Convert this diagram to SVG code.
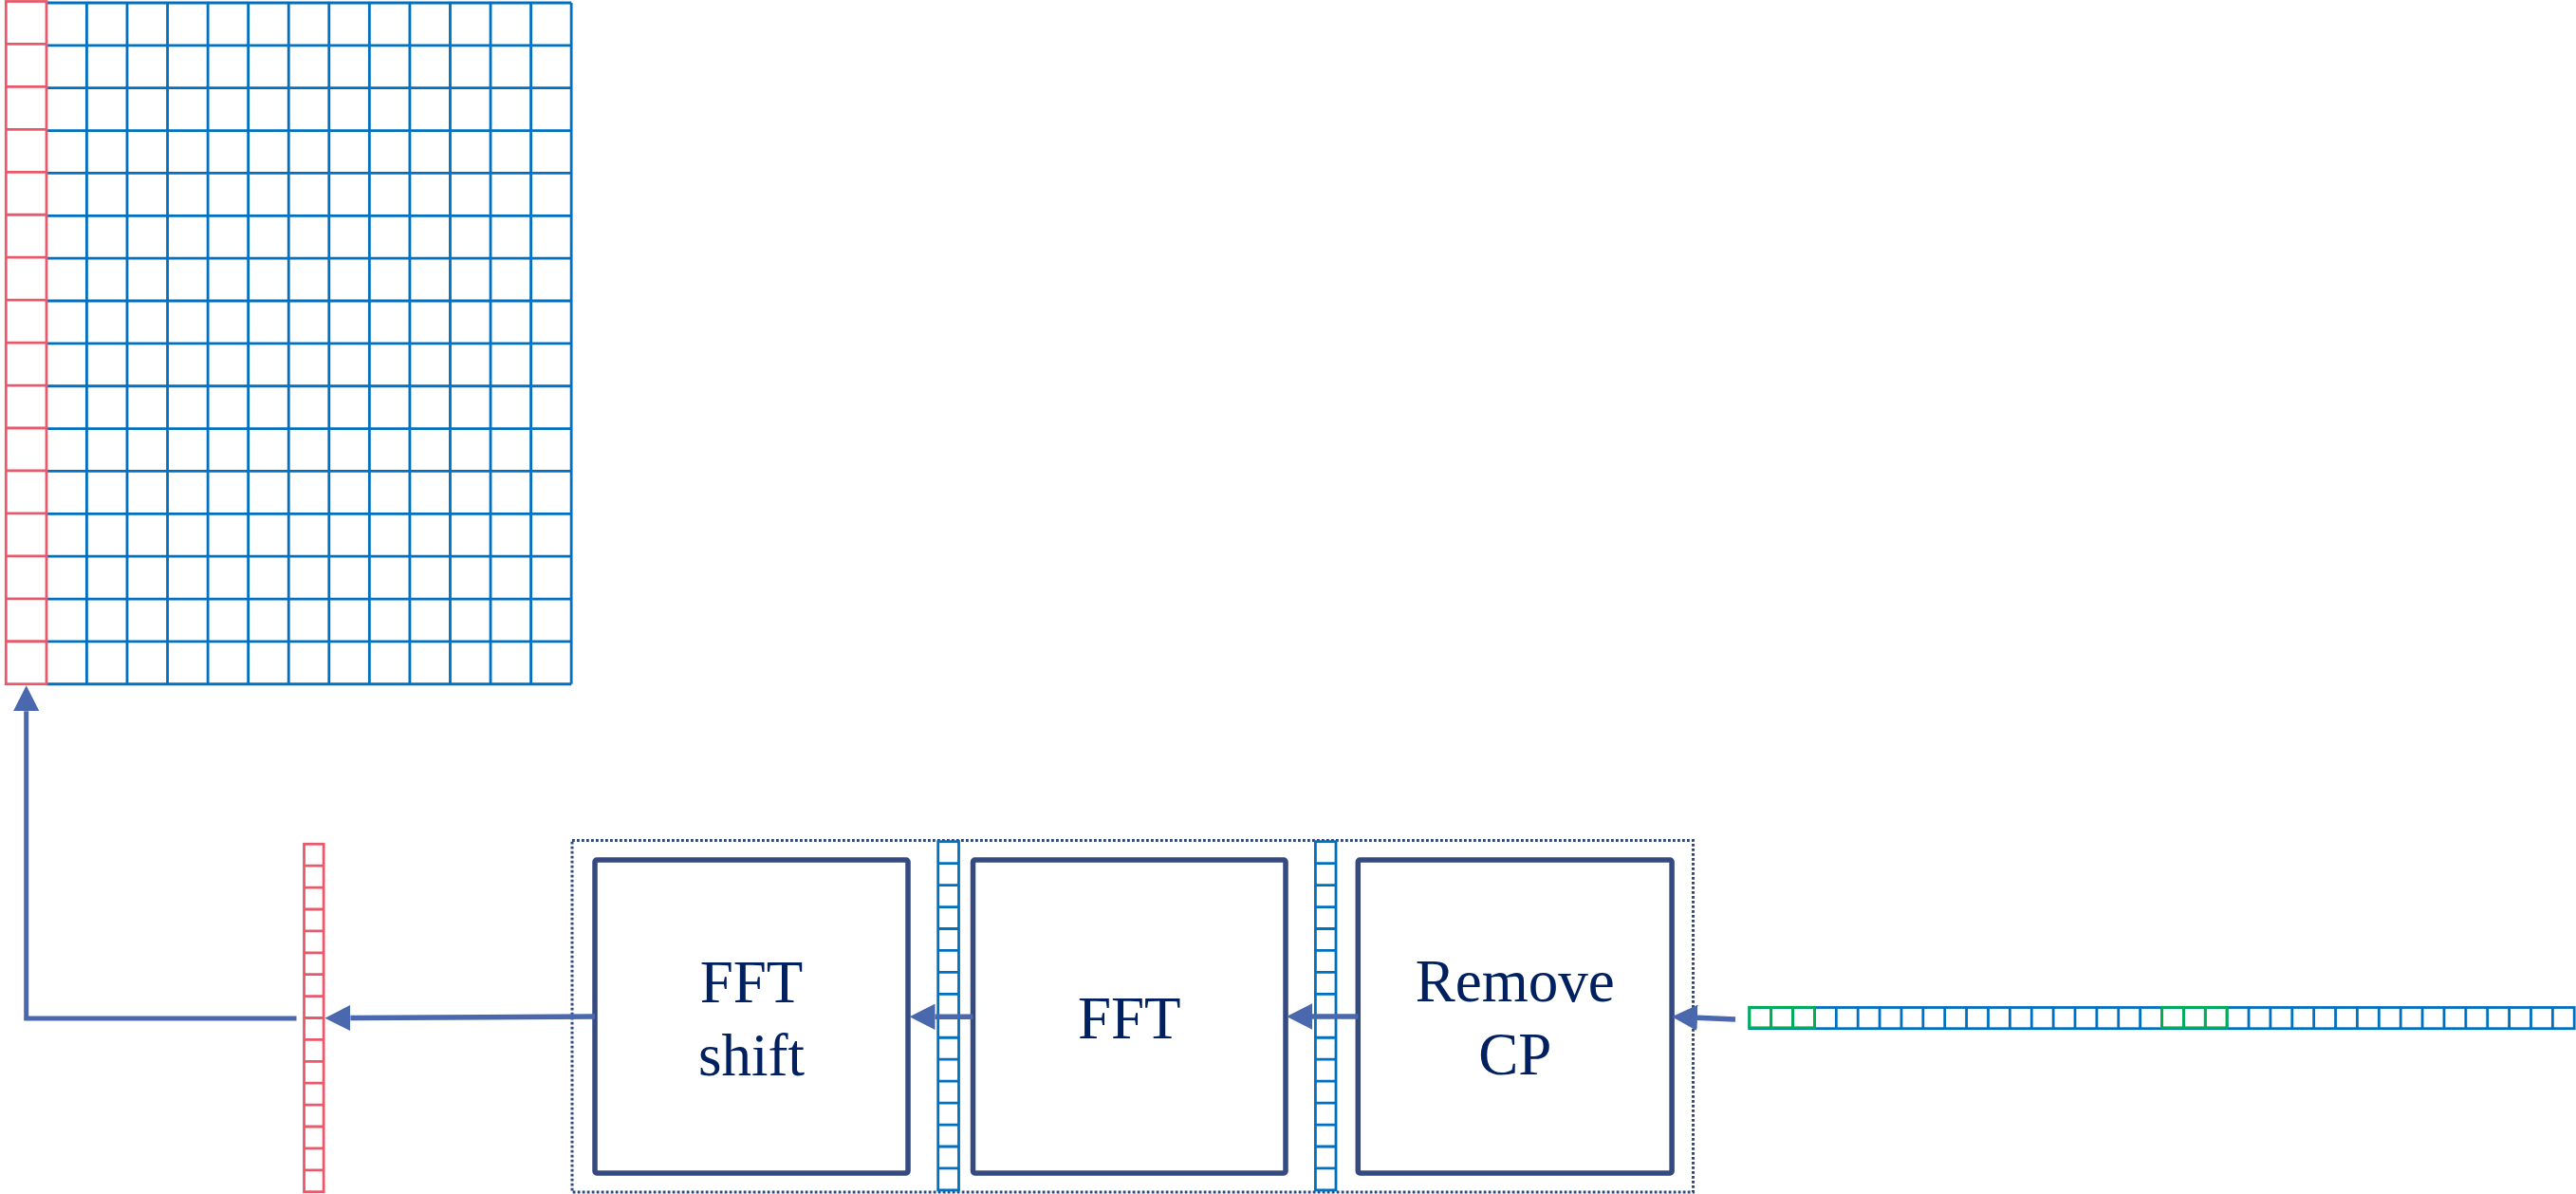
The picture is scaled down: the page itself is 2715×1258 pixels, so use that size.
<svg xmlns="http://www.w3.org/2000/svg" width="2715" height="1258" viewBox="0 0 2715 1258">
<style>
.bl{fill:none;stroke:#0070C0;stroke-width:2.8}
.rd{fill:none;stroke:#E85A6B;stroke-width:2.8}
.gr{fill:none;stroke:#00B050;stroke-width:2.8}
.box{fill:#fff;stroke:#344A80;stroke-width:5.5;stroke-linejoin:round}
.dot{fill:none;stroke:#2F4A7E;stroke-width:3;stroke-dasharray:2.8 2.2}
.lbl{font-family:"Liberation Serif","Times New Roman",serif;font-size:63px;fill:#002060;text-anchor:middle}
.con{fill:none;stroke:#4A68AE;stroke-width:5.5;marker-end:url(#ah)}
</style>
<defs>
<marker id="ah" markerUnits="userSpaceOnUse" viewBox="0 0 27 27.4" markerWidth="27" markerHeight="27.4" refX="0" refY="13.7" orient="auto">
<path d="M0,0 L27,13.7 L0,27.4 z" fill="#4A68AE"/>
</marker>
</defs>

<g id="grid">
<path class="bl" d="M49 3H602.2M49 47.86H602.2M49 92.72H602.2M49 137.58H602.2M49 182.44H602.2M49 227.3H602.2M49 272.16H602.2M49 317.02H602.2M49 361.88H602.2M49 406.74H602.2M49 451.6H602.2M49 496.46H602.2M49 541.32H602.2M49 586.18H602.2M49 631.04H602.2M49 675.9H602.2M49 720.76H602.2M91.42 3V720.76M133.98 3V720.76M176.54 3V720.76M219.1 3V720.76M261.66 3V720.76M304.22 3V720.76M346.78 3V720.76M389.34 3V720.76M431.9 3V720.76M474.46 3V720.76M517.02 3V720.76M559.58 3V720.76M602.14 3V720.76"/>
<rect class="rd" x="6.3" y="1.5" width="42.7" height="719.2"/>
<path class="rd" d="M6.3 46.45H49M6.3 91.4H49M6.3 136.35H49M6.3 181.3H49M6.3 226.25H49M6.3 271.2H49M6.3 316.15H49M6.3 361.1H49M6.3 406.05H49M6.3 451H49M6.3 495.95H49M6.3 540.9H49M6.3 585.85H49M6.3 630.8H49M6.3 675.75H49"/>
</g>

<g id="vec-out">
<rect class="rd" x="320.5" y="889.3" width="20.6" height="366.4"/>
<path class="rd" d="M320.5 912.2H341.1M320.5 935.1H341.1M320.5 958H341.1M320.5 980.9H341.1M320.5 1003.8H341.1M320.5 1026.7H341.1M320.5 1049.6H341.1M320.5 1072.5H341.1M320.5 1095.4H341.1M320.5 1118.3H341.1M320.5 1141.2H341.1M320.5 1164.1H341.1M320.5 1187H341.1M320.5 1209.9H341.1M320.5 1232.8H341.1"/>
</g>

<g id="group-border">
<rect class="dot" x="603" y="885.5" width="1181.5" height="370.5"/>
</g>

<g id="node-fftshift">
<rect class="box" x="627" y="906" width="330" height="330" rx="2"/>
<text class="lbl" x="792" y="1056">FFT</text>
<text class="lbl" x="792" y="1132.7">shift</text>
</g>

<g id="node-fft">
<rect class="box" x="1025.5" y="906" width="329.5" height="330" rx="2"/>
<text class="lbl" x="1190.3" y="1094">FFT</text>
</g>

<g id="node-removecp">
<rect class="box" x="1431.3" y="906" width="330.8" height="330" rx="2"/>
<text class="lbl" x="1596.7" y="1055.3">Remove</text>
<text class="lbl" x="1596.7" y="1132.3">CP</text>
</g>

<g id="vec-mid1">
<rect class="bl" x="988.7" y="886.7" width="21.8" height="367.2"/>
<path class="bl" d="M988.7 909.65H1010.5M988.7 932.6H1010.5M988.7 955.55H1010.5M988.7 978.5H1010.5M988.7 1001.45H1010.5M988.7 1024.4H1010.5M988.7 1047.35H1010.5M988.7 1070.3H1010.5M988.7 1093.25H1010.5M988.7 1116.2H1010.5M988.7 1139.15H1010.5M988.7 1162.1H1010.5M988.7 1185.05H1010.5M988.7 1208H1010.5M988.7 1230.95H1010.5"/>
</g>

<g id="vec-mid2">
<rect class="bl" x="1386.4" y="886.7" width="21.6" height="367.2"/>
<path class="bl" d="M1386.4 909.65H1408M1386.4 932.6H1408M1386.4 955.55H1408M1386.4 978.5H1408M1386.4 1001.45H1408M1386.4 1024.4H1408M1386.4 1047.35H1408M1386.4 1070.3H1408M1386.4 1093.25H1408M1386.4 1116.2H1408M1386.4 1139.15H1408M1386.4 1162.1H1408M1386.4 1185.05H1408M1386.4 1208H1408M1386.4 1230.95H1408"/>
</g>

<g id="vec-in">
<rect class="bl" x="1843.8" y="1061.5" width="869.4" height="22.2"/>
<path class="bl" d="M1866.68 1061.5v22.2M1889.56 1061.5v22.2M1912.44 1061.5v22.2M1935.32 1061.5v22.2M1958.2 1061.5v22.2M1981.08 1061.5v22.2M2003.96 1061.5v22.2M2026.84 1061.5v22.2M2049.72 1061.5v22.2M2072.6 1061.5v22.2M2095.48 1061.5v22.2M2118.36 1061.5v22.2M2141.24 1061.5v22.2M2164.12 1061.5v22.2M2187 1061.5v22.2M2209.88 1061.5v22.2M2232.76 1061.5v22.2M2255.64 1061.5v22.2M2278.52 1061.5v22.2M2301.4 1061.5v22.2M2324.28 1061.5v22.2M2347.16 1061.5v22.2M2370.04 1061.5v22.2M2392.92 1061.5v22.2M2415.8 1061.5v22.2M2438.68 1061.5v22.2M2461.56 1061.5v22.2M2484.44 1061.5v22.2M2507.32 1061.5v22.2M2530.2 1061.5v22.2M2553.08 1061.5v22.2M2575.96 1061.5v22.2M2598.84 1061.5v22.2M2621.72 1061.5v22.2M2644.6 1061.5v22.2M2667.48 1061.5v22.2M2690.36 1061.5v22.2"/>
<rect class="gr" x="1843.8" y="1061.3" width="68.64" height="21.5"/>
<path class="gr" d="M1866.68 1061.3v21.5M1889.56 1061.3v21.5"/>
<rect class="gr" x="2278.52" y="1061.3" width="68.64" height="21.5"/>
<path class="gr" d="M2301.4 1061.3v21.5M2324.28 1061.3v21.5"/>
</g>

<g id="connectors">
<path class="con" d="M1829 1074 L1789 1072.3"/>
<path class="con" d="M1431.3 1071 H1383"/>
<path class="con" d="M1025.5 1071.3 H985.5"/>
<path class="con" d="M627 1071 L369.4 1072.5"/>
<path class="con" style="stroke-width:5" d="M312.5 1073 H27.7 V749.3"/>
</g>
</svg>
